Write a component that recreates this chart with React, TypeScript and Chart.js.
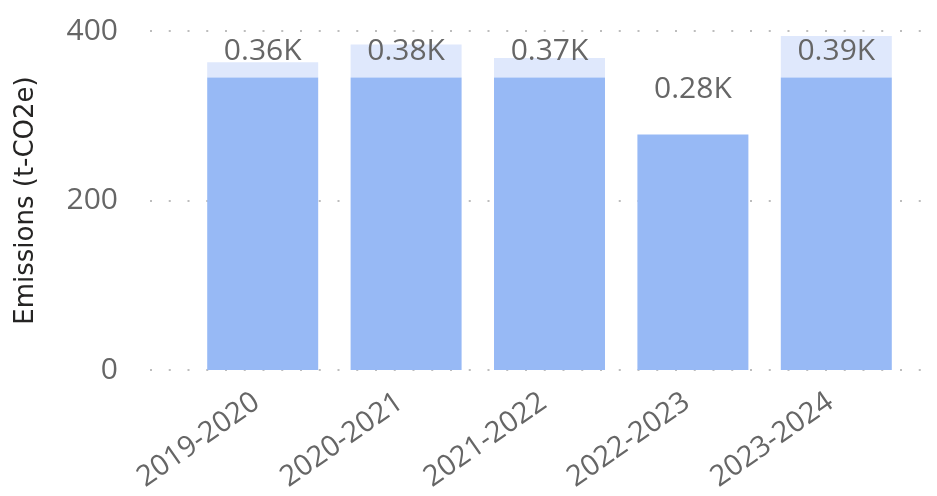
import React, { useEffect, useRef } from "react";
import { Chart, registerables } from "chart.js";

Chart.register(...registerables);

// Reporting years
const categories = ["2019-2020", "2020-2021", "2021-2022", "2022-2023", "2023-2024"];
// Lower stacked segment (t-CO2e)
const baseValues = [345, 345, 345, 278, 345];
// Upper stacked segment (t-CO2e)
const topValues = [18, 39, 23, 0, 49];
// Value axis ticks
const yTicks = [0, 200, 400];

const BASE_COLOR = "#97b9f5";
const TOP_COLOR = "#dfe8fc";
const TEXT_GRAY = "#666666";
const FONT = "'Open Sans', 'Noto Sans', sans-serif";

const formatK = (v: number) => (v / 1000).toFixed(2) + "K";

// Dotted horizontal gridlines that run a little past the plot area
const dottedGrid = {
  id: "dottedGrid",
  beforeDatasetsDraw(chart: any) {
    const { ctx, scales } = chart;
    const y = scales.y;
    ctx.save();
    ctx.strokeStyle = "#bdbdbd";
    ctx.lineWidth = 2;
    ctx.setLineDash([2, 16.75]);
    yTicks.forEach((t) => {
      const py = Math.round(y.getPixelForValue(t));
      ctx.beginPath();
      ctx.moveTo(150, py);
      ctx.lineTo(chart.width, py);
      ctx.stroke();
    });
    ctx.restore();
  },
};

// Stack totals written above each column
const totalLabels = {
  id: "totalLabels",
  afterDatasetsDraw(chart: any) {
    const { ctx, chartArea } = chart;
    const metas = chart.data.datasets.map((_: any, i: number) => chart.getDatasetMeta(i));
    ctx.save();
    ctx.font = `30px ${FONT}`;
    ctx.fillStyle = TEXT_GRAY;
    ctx.textAlign = "center";
    ctx.textBaseline = "alphabetic";
    categories.forEach((_, i) => {
      const total = baseValues[i] + topValues[i];
      const x = metas[0].data[i].x;
      const top = Math.min(...metas.map((m: any) => m.data[i].y));
      const baseline = Math.max(top - 36, chartArea.top + 29);
      ctx.fillText(formatK(total), x, baseline);
    });
    ctx.restore();
  },
};

export default function App() {
  const canvasRef = useRef<HTMLCanvasElement | null>(null);

  useEffect(() => {
    if (!canvasRef.current) return;
    const chart = new Chart(canvasRef.current, {
      type: "bar",
      data: {
        labels: categories,
        datasets: [
          {
            label: "Base",
            data: baseValues,
            backgroundColor: BASE_COLOR,
            barPercentage: 0.774,
            categoryPercentage: 1,
          },
          {
            label: "Top",
            data: topValues,
            backgroundColor: TOP_COLOR,
            barPercentage: 0.774,
            categoryPercentage: 1,
          },
        ],
      },
      options: {
        animation: false,
        responsive: false,
        maintainAspectRatio: false,
        layout: { padding: { left: 0, top: 31, right: 29, bottom: 0 } },
        plugins: {
          legend: { display: false },
          tooltip: { enabled: false },
        },
        scales: {
          x: {
            stacked: true,
            grid: { display: false, drawTicks: false },
            border: { display: false },
            ticks: {
              minRotation: 35,
              maxRotation: 35,
              padding: 15,
              labelOffset: -6,
              color: TEXT_GRAY,
              font: { family: FONT, size: 29 },
            },
            afterFit(scale: any) {
              scale.height = 126;
              scale.paddingLeft = 0;
              scale.paddingRight = 0;
            },
          },
          y: {
            stacked: true,
            min: 0,
            max: 400,
            grid: { display: false, drawTicks: false },
            border: { display: false },
            ticks: {
              stepSize: 200,
              padding: 73,
              color: TEXT_GRAY,
              font: { family: FONT, size: 30 },
            },
            title: {
              display: true,
              text: "Emissions (t-CO2e)",
              color: "#252423",
              font: { family: "'DejaVu Sans', sans-serif", size: 26 },
              padding: { top: 11, bottom: 0 },
            },
            afterFit(scale: any) {
              scale.width = 191;
              scale.paddingTop = 0;
              scale.paddingBottom = 0;
            },
          },
        },
      },
      plugins: [dottedGrid, totalLabels],
    });
    return () => chart.destroy();
  }, []);

  return (
    <div style={{ position: "fixed", left: 0, top: 0, width: 937, height: 496, background: "#fff" }}>
      <canvas ref={canvasRef} width={937} height={496} style={{ display: "block" }} />
    </div>
  );
}
